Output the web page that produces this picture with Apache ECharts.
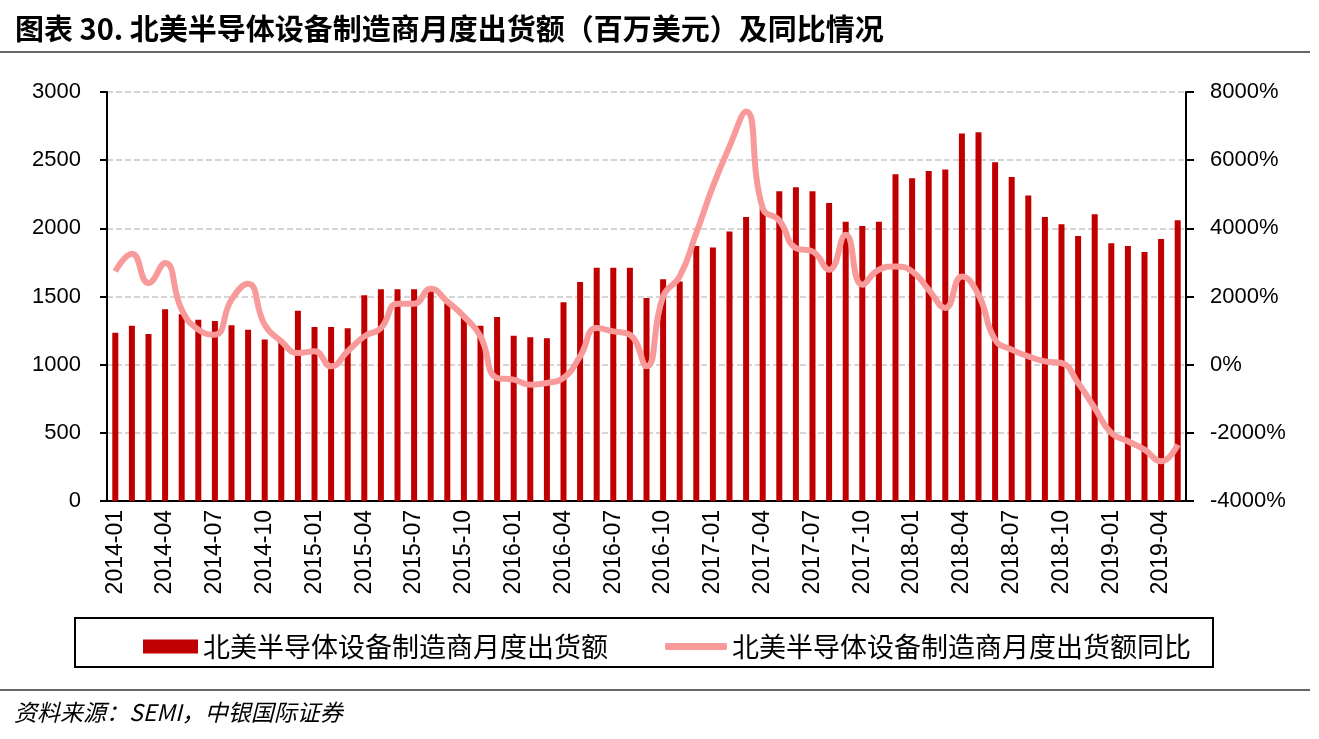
<!DOCTYPE html>
<html><head><meta charset="utf-8">
<script src="https://cdn.jsdelivr.net/npm/echarts@6/dist/echarts.min.js"></script>
<style>html,body{margin:0;padding:0;background:#fff}#c{width:1319px;height:739px}</style>
</head><body><div id="c"></div>
<script>
const categories = (function(){const a=[];for(let y=2014;y<=2019;y++){for(let m=1;m<=12;m++){if(y===2019&&m>5)break;a.push(y+'-'+(m<10?'0'+m:m));}}return a;})();
const shipments = [1235,1286,1225,1406,1370,1330,1321,1289,1257,1184,1170,1396,
1277,1277,1267,1509,1553,1553,1553,1570,1450,1347,1286,1350,
1213,1201,1193,1458,1607,1710,1710,1710,1489,1626,1610,1871,
1859,1976,2084,2150,2272,2301,2272,2186,2049,2018,2049,2397,
2367,2421,2431,2695,2705,2485,2377,2240,2084,2030,1944,2103,
1890,1871,1827,1922,2059];
const yoy = [2736,3255,2396,2982,1613,1026,880,1906,2375,1173,684,342,
391,-49,391,831,1075,1789,1789,2230,1850,1418,831,-391,
-440,-587,-537,-391,245,1075,978,880,-49,2004,2590,3861,
5229,6403,7429,4594,4230,3421,3323,2786,3812,2346,2786,2883,
2736,2199,1662,2590,2053,733,440,245,98,49,-537,-1271,
-2004,-2248,-2493,-2834,-2346];
const leftTicks = [0,500,1000,1500,2000,2500,3000];
const rightTicks = [-4000,-2000,0,2000,4000,6000,8000];
const barName = '北美半导体设备制造商月度出货额';
const lineName = '北美半导体设备制造商月度出货额同比';

const NUM = "'Liberation Sans Narrow','Arial Narrow','Liberation Sans',Arial,sans-serif";
const CJK = "'Noto Sans CJK SC',sans-serif";
const chart = echarts.init(document.getElementById('c'));
chart.setOption({
  animation:false,
  backgroundColor:'#fff',
  title:{text:'图表 30. 北美半导体设备制造商月度出货额（百万美元）及同比情况',left:10,top:9,
    textStyle:{fontFamily:CJK,fontSize:29,fontWeight:'bold',color:'#000'}},
  grid:{left:107,right:133,top:92,bottom:238},
  legend:[
    {data:[barName],left:138,top:628,itemWidth:55,itemHeight:14,icon:'rect',
     textStyle:{fontFamily:CJK,fontSize:27,color:'#000'}},
    {data:[lineName],left:660,top:628,itemWidth:62,itemHeight:7,icon:'roundRect',
     itemStyle:{color:'#F99A9A'},
     textStyle:{fontFamily:CJK,fontSize:27,color:'#000'}}
  ],
  xAxis:{type:'category',data:categories,
    axisLine:{lineStyle:{color:'#000',width:2}},axisTick:{show:false},
    axisLabel:{rotate:90,interval:2,fontFamily:NUM,fontSize:23,color:'#000',margin:9}},
  yAxis:[
    {type:'value',min:0,max:3000,interval:500,
     axisLine:{show:true,lineStyle:{color:'#000',width:2}},
     axisTick:{show:true,length:7,lineStyle:{color:'#000',width:2}},
     axisLabel:{fontFamily:NUM,fontSize:22,color:'#000',margin:26,formatter:v=>String(v)},
     splitLine:{show:true,lineStyle:{color:'#c8c8c8',type:'dashed',width:1.5}}},
    {type:'value',min:-4000,max:8000,interval:2000,position:'right',
     axisLine:{show:true,lineStyle:{color:'#000',width:2}},
     axisTick:{show:true,length:8,lineStyle:{color:'#000',width:2}},
     axisLabel:{fontFamily:NUM,fontSize:22,color:'#000',margin:24,formatter:v=>v+'%'},
     splitLine:{show:false}}
  ],
  series:[
    {name:barName,type:'bar',data:shipments,barWidth:6,itemStyle:{color:'#C00000'}},
    {name:lineName,type:'line',yAxisIndex:1,data:yoy,smooth:0.5,showSymbol:false,symbol:'none',
     lineStyle:{color:'#F99A9A',width:6},itemStyle:{color:'#F99A9A'},z:3}
  ],
  graphic:[
    {type:'line',shape:{x1:0,y1:52,x2:1310,y2:52},style:{stroke:'#333',lineWidth:1.5}},
    {type:'rect',shape:{x:75,y:618,width:1138,height:49},style:{fill:'none',stroke:'#000',lineWidth:2}},
    {type:'line',shape:{x1:0,y1:690,x2:1310,y2:690},style:{stroke:'#333',lineWidth:1.5}},
    {type:'text',left:14,top:701,style:{text:'资料来源：SEMI，中银国际证券',fontFamily:CJK,fontSize:23,fontStyle:'italic',fill:'#000'}}
  ]
});
</script></body></html>
